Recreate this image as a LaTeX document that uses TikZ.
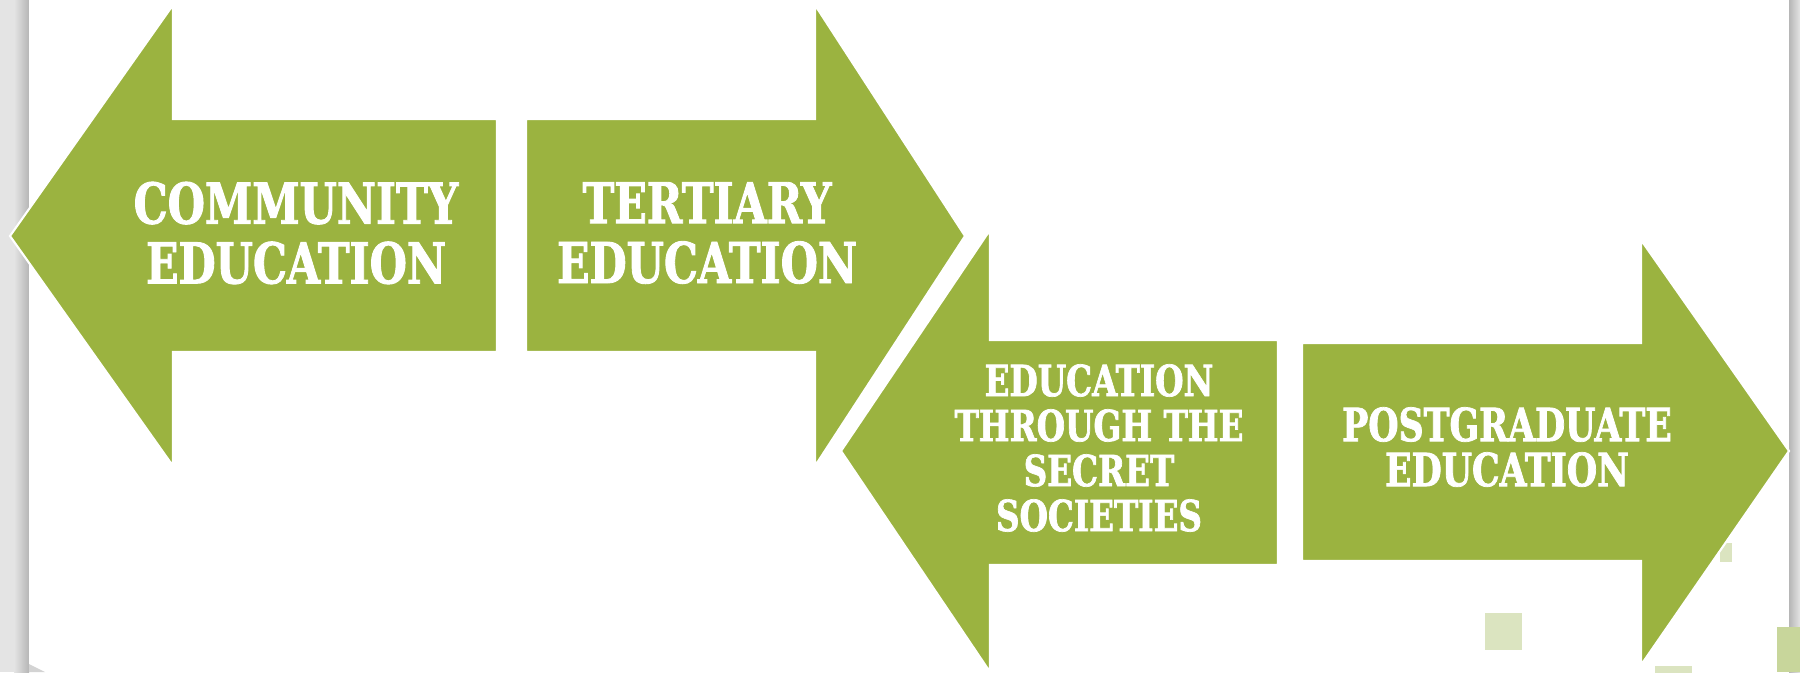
\documentclass[tikz,border=0pt]{standalone}
\usepackage{fontspec}
\usepackage{tikz}
\usetikzlibrary{positioning}
\newfontfamily\stencilfont[FakeStretch=0.76, FakeBold=1.6]{DejaVu Serif}
\definecolor{leafgreen}{RGB}{155,179,64}
\definecolor{palegreen}{RGB}{219,228,192}
\definecolor{midgreen}{RGB}{200,214,155}
\definecolor{slidegray}{RGB}{228,228,228}
\definecolor{shadowgray}{RGB}{182,182,182}
\tikzset{
  arrowshape/.style={fill=leafgreen, draw=white, line width=0.6pt, line join=miter},
  bigtext/.style={text=white, align=center,
    font=\stencilfont\bfseries\fontsize{16}{17}\selectfont},
  smalltext/.style={text=white, align=center,
    font=\stencilfont\bfseries\fontsize{12.2}{12.8}\selectfont},
  midtext/.style={text=white, align=center,
    font=\stencilfont\bfseries\fontsize{13}{12.8}\selectfont},
  tile/.style={fill=palegreen, draw=none}
}

\begin{document}
\begin{tikzpicture}[x=0.01cm, y=-0.01cm]
  \useasboundingbox (0,0) rectangle (1800,672);

  % slide background and its shadow
  \fill[slidegray] (0,0) rectangle (1800,672);
  \shade[left color=slidegray, right color=shadowgray] (14,0) rectangle (29,672);
  \shade[left color=shadowgray, right color=slidegray] (1789,0) rectangle (1800,672);
  \fill[white] (29,0) rectangle (1789,672);
  \fill[shadowgray!60] (29,664) -- (45,672) -- (29,672) -- cycle;

  % tiles in the corner
  \fill[tile] (1485,613) rectangle (1522,650);
  \fill[tile] (1655,666) rectangle (1692,680);
  \fill[tile] (1720,543) rectangle (1732,562);
  \fill[midgreen] (1777,627) rectangle (1800,672);

  % left arrow, top row
  \draw[arrowshape] (10,236) -- (173,5) -- (173,119) -- (497,119)
    -- (497,352) -- (173,352) -- (173,466) -- cycle;
  \node[bigtext] (community) at (296,233) {COMMUNITY\\EDUCATION};

  % right arrow, top row
  \draw[arrowshape] (526,119) -- (815,119) -- (815,5) -- (965,236)
    -- (815,466) -- (815,352) -- (526,352) -- cycle;
  \node[bigtext] (tertiary) at (707,233) {TERTIARY\\EDUCATION};

  % left arrow, bottom row
  \draw[arrowshape] (841,451) -- (990,230) -- (990,340) -- (1278,340)
    -- (1278,565) -- (990,565) -- (990,672) -- cycle;
  \node[smalltext] (secret) at (1099,448)
    {EDUCATION\\THROUGH THE\\SECRET\\SOCIETIES};

  % right arrow, bottom row
  \draw[arrowshape] (1302,343) -- (1641,343) -- (1641,240) -- (1789,451)
    -- (1641,665) -- (1641,561) -- (1302,561) -- cycle;
  \node[midtext] (postgrad) at (1507,447) {POSTGRADUATE\\EDUCATION};
\end{tikzpicture}
\end{document}
